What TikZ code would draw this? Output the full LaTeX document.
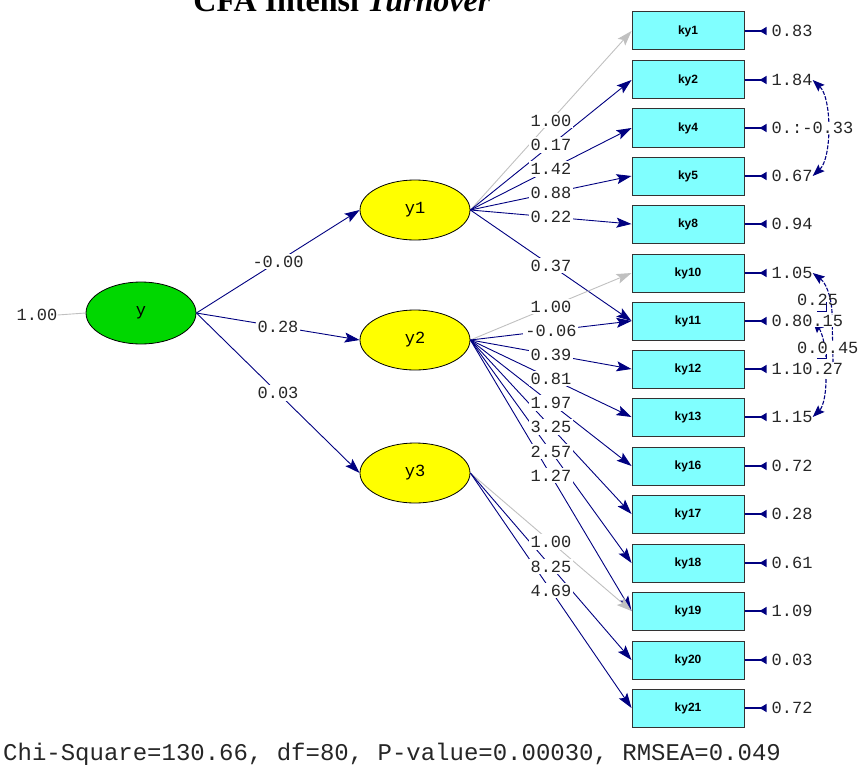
\documentclass[tikz,border=0pt]{standalone}
\usepackage{fontspec}
\setmainfont{Liberation Serif}
\newfontfamily\monof{Liberation Mono}
\newfontfamily\sansf{Liberation Sans}
\usetikzlibrary{arrows.meta,calc,shapes.geometric}
\definecolor{navyc}{RGB}{0,0,128}
\definecolor{grayc}{RGB}{192,192,192}
\definecolor{boxc}{RGB}{128,255,255}
\definecolor{greenc}{RGB}{0,215,0}
\definecolor{yellowc}{RGB}{255,255,0}
\tikzset{covtip/.tip={Stealth[length=12pt,width=9pt,inset=2pt]}}
\begin{document}
\begin{tikzpicture}[x=1pt,y=-1pt,
  obs/.style={draw=black!80, line width=1pt, fill=boxc, minimum width=112pt, minimum height=38pt, inner sep=0pt, font=\sansf\bfseries\fontsize{12}{14}\selectfont},
  lat/.style={draw=black, line width=0.8pt, ellipse, minimum width=110pt, minimum height=60pt, inner sep=0pt, font=\monof\fontsize{17}{20}\selectfont},
  loadp/.style={draw=navyc, line width=0.9pt, -{Stealth[length=15pt,width=10pt,inset=3pt]}},
  fixp/.style={draw=grayc, line width=0.9pt, -{Stealth[length=15pt,width=10pt,inset=3pt]}},
  lbl/.style={font=\monof\fontsize{17}{20}\selectfont, fill=white, inner sep=2pt, text=black!85},
  elbl/.style={font=\monof\fontsize{17}{20}\selectfont, inner sep=0pt, anchor=west, text=black!85},
  errp/.style={draw=navyc, line width=2pt, -{Latex[reversed,length=8pt,width=9pt]}},
  covp/.style={draw=navyc, line width=1.1pt, dash pattern=on 4pt off 1.5pt},
]
\useasboundingbox (0,0) rectangle (861,765);

% title
\node[font=\bfseries\fontsize{32}{36}\selectfont, anchor=base, inner sep=0pt] (title) at (342,12) {CFA Intensi \textit{Turnover}};

% latent variables
\node[lat, fill=greenc, minimum height=62pt] (y) at (141,313) {y};
\node[lat, fill=yellowc] (y1) at (415,210) {y1};
\node[lat, fill=yellowc] (y2) at (415,340) {y2};
\node[lat, fill=yellowc] (y3) at (415,473) {y3};

% observed variables
\foreach \n/\yy in {1/31,2/80,4/128,5/176,8/224,10/273,11/321,12/369,13/417,16/466,17/514,18/563,19/611,20/660,21/708}
  \node[obs] (ky\n) at (688,\yy) {ky\n};

% variance of y
\node[font=\monof\fontsize{17}{20}\selectfont, inner sep=0pt, text=black!85] (vy) at (37,315) {1.00};
\draw[grayc, line width=0.9pt] (vy.east) -- (y.west);

% second order loadings
\draw[loadp] (y.east) -- (y1.west);
\draw[loadp] (y.east) -- (y2.west);
\draw[loadp] (y.east) -- (y3.west);

% first order loadings
\foreach \t/\s in {ky1/fixp,ky2/loadp,ky4/loadp,ky5/loadp,ky8/loadp,ky11/loadp}
  \draw[\s] (y1.east) -- (\t.west);
\foreach \t/\s in {ky10/fixp,ky11/loadp,ky12/loadp,ky13/loadp,ky16/loadp,ky17/loadp,ky18/loadp,ky19/loadp}
  \draw[\s] (y2.east) -- (\t.west);
\foreach \t/\s in {ky19/fixp,ky20/loadp,ky21/loadp}
  \draw[\s] (y3.east) -- (\t.west);

% labels of loadings
\node[lbl] at ($(y.east)!0.5!(y1.west)$) {-0.00};
\node[lbl] at ($(y.east)!0.5!(y2.west)$) {0.28};
\node[lbl] at ($(y.east)!0.5!(y3.west)$) {0.03};
\foreach \t/\v in {ky1/1.00,ky2/0.17,ky4/1.42,ky5/0.88,ky8/0.22,ky11/0.37}
  \node[lbl] at ($(y1.east)!0.5!(\t.west)$) {\v};
\foreach \t/\v in {ky10/1.00,ky11/-0.06,ky12/0.39,ky13/0.81,ky16/1.97,ky17/3.25,ky18/2.57,ky19/1.27}
  \node[lbl] at ($(y2.east)!0.5!(\t.west)$) {\v};
\foreach \t/\v in {ky19/1.00,ky20/8.25,ky21/4.69}
  \node[lbl] at ($(y3.east)!0.5!(\t.west)$) {\v};

% error variances
\foreach \n/\v in {1/0.83,2/1.84,4/0.:,5/0.67,8/0.94,10/1.05,11/0.80,12/1.10,13/1.15,16/0.72,17/0.28,18/0.61,19/1.09,20/0.03,21/0.72}{
  \draw[errp] (ky\n.east) -- ++(22,0);
  \node[elbl] (e\n) at ($(ky\n.east)+(27,0)$) {\v};
}

% error covariances
\draw[covp, covtip-covtip] (e2.east) .. controls (832,98) and (832,158) .. (e5.east);
\node[elbl, fill=white] (c45) at ($(e4.west)+(30.6,0)$) {-0.33};

\draw[covp, covtip-] (e10.east) .. controls (826,283) and (831,296) .. (832,312) -- (833,362);
\draw[covp, covtip-] (e11.east) .. controls (822,332) and (825,345) .. (826,357);
\draw[navyc, line width=1pt] (817,311) -| (826,302);
\draw[navyc, line width=1pt] (817,358) -| (826,346);
\draw[covp, -covtip] (826,379) .. controls (826,398) and (822,408) .. (e13.east);

\node[elbl] (c1011) at (797,300) {0.25};
\node[elbl, fill=white] (c1012) at ($(e11.west)+(30.6,0)$) {0.15};
\node[elbl] (c1013) at (797,348) {0.0};
\node[elbl, fill=white] (c1112) at (817.4,348) {0.45};
\node[elbl, fill=white] (c1113) at ($(e12.west)+(30.6,0)$) {0.27};

% fit statistics
\node[anchor=base west, inner sep=0pt, font=\monof\fontsize{24}{28}\selectfont, text=black!85] (fit) at (3,760) {Chi-Square=130.66, df=80, P-value=0.00030, RMSEA=0.049};
\end{tikzpicture}
\end{document}
